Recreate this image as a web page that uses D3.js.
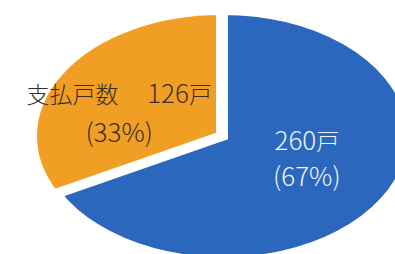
<!DOCTYPE html>
<html>
<head>
<meta charset="utf-8">
<script src="https://cdn.jsdelivr.net/npm/d3@7"></script>
<style>
  html, body { margin: 0; padding: 0; background: #ffffff; }
  svg { display: block; }
  text { font-family: "Noto Sans CJK JP", "Noto Sans", sans-serif; font-weight: 300; }
</style>
</head>
<body>
<svg id="chart" width="395" height="254"></svg>
<script>
// ---- data ----
const categories = ["未払戸数", "支払戸数"];
const values = [260, 126];
const labelLine1 = ["260戸", "支払戸数　 126戸"];
const labelLine2 = ["(67%)", "(33%)"];
const colors = ["#2b67bc", "#f19f24"];
const textColors = ["#eef2fa", "#3a2c20"];

// ---- layout ----
const W = 395, H = 254;
const cx = 223.5, cy = 136;      // pie centre
const rx = 188, ry = 125.5;      // ellipse radii
const explode = [[0, 0], [-3, 0]];
const labelShift = [[3, -9], [-21, 10]];
const lineGap = [36, 39];
const cjkSize = 23, latinSize = 26;

const svg = d3.select("#chart");

const pie = d3.pie().sort(null).value(d => d)(values);
const arc = d3.arc().innerRadius(0).outerRadius(1);
const labelArc = d3.arc().innerRadius(0.5).outerRadius(0.5);

const root = svg.append("g").attr("transform", `translate(${cx},${cy})`);

const slices = root.selectAll("g.slice")
  .data(pie)
  .join("g")
  .attr("class", "slice")
  .attr("transform", (d, i) => `translate(${explode[i][0]},${explode[i][1]})`);

slices.append("path")
  .attr("d", arc)
  .attr("transform", `scale(${rx},${ry})`)
  .attr("fill", (d, i) => colors[i])
  .attr("stroke", "#ffffff")
  .attr("stroke-width", 9)
  .attr("stroke-linejoin", "miter")
  .attr("vector-effect", "non-scaling-stroke");

// split a string into runs of CJK / non-CJK characters
function runs(s) {
  const out = [];
  for (const ch of s) {
    const cjk = /[\u3000-\u9fff\uff00-\uffef]/.test(ch);
    if (out.length && out[out.length - 1].cjk === cjk) out[out.length - 1].t += ch;
    else out.push({ t: ch, cjk });
  }
  return out;
}

function addLine(sel, str, x, y, fill) {
  const t = sel.append("text")
    .attr("x", x).attr("y", y)
    .attr("text-anchor", "middle")
    .attr("fill", fill)
    .attr("xml:space", "preserve")
    .style("white-space", "pre");
  runs(str).forEach(r => {
    t.append("tspan")
      .attr("font-size", r.cjk ? cjkSize : latinSize)
      .text(r.t);
  });
}

slices.each(function(d, i) {
  const c = labelArc.centroid(d);
  const x = c[0] * rx + labelShift[i][0];
  const y = c[1] * ry + labelShift[i][1];
  const g = d3.select(this);
  addLine(g, labelLine1[i], x, y - 10, textColors[i]);
  addLine(g, labelLine2[i], x, y - 10 + lineGap[i], textColors[i]);
});
</script>
</body>
</html>
